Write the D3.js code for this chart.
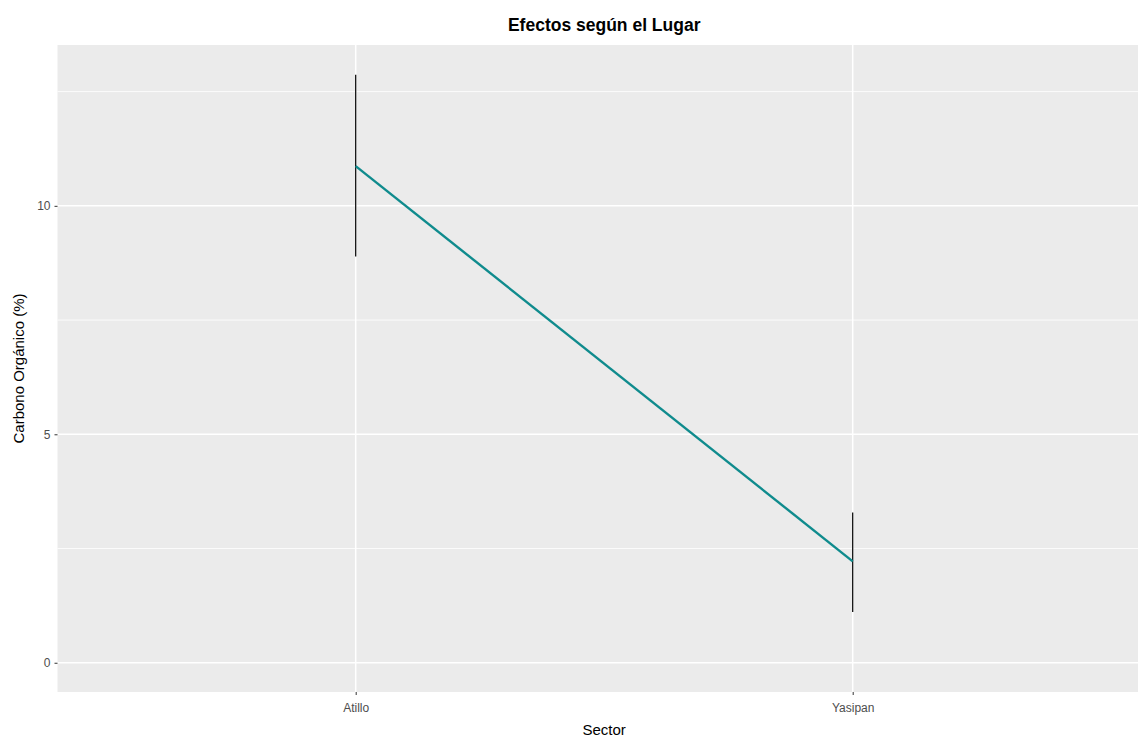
<!DOCTYPE html>
<html>
<head>
<meta charset="utf-8">
<script src="https://cdn.jsdelivr.net/npm/d3@7"></script>
<style>
  body { margin: 0; background: #fff; }
  svg { display: block; font-family: "Liberation Sans", Arial, sans-serif; }
</style>
</head>
<body>
<div id="chart"></div>
<script>
// data
var sectors = ["Atillo", "Yasipan"];
var means = [10.87, 2.22];
var lower = [8.89, 1.11];
var upper = [12.87, 3.29];
var yTicks = [0, 5, 10];
var yMinor = [2.5, 7.5, 12.5];

var width = 1138, height = 738;
var panelLeft = 57.5, panelTop = 45, panelBottom = 692;
var step = (852.7 - 355.7);
var panelRight = panelLeft + step * 2.2;

var svg = d3.select("#chart").append("svg")
  .attr("width", width)
  .attr("height", height);

var x = d3.scalePoint()
  .domain(sectors)
  .range([panelLeft, panelRight])
  .padding(0.6);

var y = d3.scaleLinear()
  .domain([-0.64, 13.52])
  .range([panelBottom, panelTop]);

// panel background
svg.append("rect")
  .attr("x", panelLeft)
  .attr("y", panelTop)
  .attr("width", panelRight - panelLeft)
  .attr("height", panelBottom - panelTop)
  .attr("fill", "#ebebeb");

var grid = svg.append("g");

grid.selectAll(".minor").data(yMinor).enter()
  .append("line")
  .attr("x1", panelLeft).attr("x2", panelRight)
  .attr("y1", d => y(d)).attr("y2", d => y(d))
  .attr("stroke", "#fff").attr("stroke-width", 0.8);

grid.selectAll(".major").data(yTicks).enter()
  .append("line")
  .attr("x1", panelLeft).attr("x2", panelRight)
  .attr("y1", d => y(d)).attr("y2", d => y(d))
  .attr("stroke", "#fff").attr("stroke-width", 1.5);

grid.selectAll(".vmajor").data(sectors).enter()
  .append("line")
  .attr("x1", d => x(d)).attr("x2", d => x(d))
  .attr("y1", panelTop).attr("y2", panelBottom)
  .attr("stroke", "#fff").attr("stroke-width", 1.5);

// axes
var yAxis = svg.append("g")
  .attr("transform", `translate(${panelLeft},0)`)
  .call(d3.axisLeft(y).tickValues(yTicks).tickSize(3).tickPadding(4));
var xAxis = svg.append("g")
  .attr("transform", `translate(0,${panelBottom})`)
  .call(d3.axisBottom(x).tickSize(3).tickPadding(8));

[yAxis, xAxis].forEach(function(ax) {
  ax.select(".domain").remove();
  ax.selectAll(".tick line").attr("stroke", "#333").attr("stroke-width", 1);
  ax.selectAll(".tick text")
    .attr("fill", "#4d4d4d")
    .style("font-size", "12px")
    .style("font-family", "Liberation Sans, Arial, sans-serif");
});

// error bars
svg.selectAll(".err").data(sectors).enter()
  .append("line")
  .attr("x1", d => x(d)).attr("x2", d => x(d))
  .attr("y1", (d, i) => y(lower[i]))
  .attr("y2", (d, i) => y(upper[i]))
  .attr("stroke", "#000")
  .attr("stroke-width", 1.2);

// mean line
var line = d3.line()
  .x((d, i) => x(sectors[i]))
  .y(d => y(d));

svg.append("path")
  .datum(means)
  .attr("d", line)
  .attr("fill", "none")
  .attr("stroke", "#0f8b8d")
  .attr("stroke-width", 2.4);

// titles
var midX = (panelLeft + panelRight) / 2;
svg.append("text")
  .attr("x", midX)
  .attr("y", 31)
  .attr("text-anchor", "middle")
  .style("font-size", "17.5px")
  .style("font-weight", "bold")
  .attr("fill", "#000")
  .text("Efectos según el Lugar");

svg.append("text")
  .attr("x", midX)
  .attr("y", 735)
  .attr("text-anchor", "middle")
  .style("font-size", "15px")
  .attr("fill", "#000")
  .text("Sector");

svg.append("text")
  .attr("transform", `translate(24,${(panelTop + panelBottom) / 2}) rotate(-90)`)
  .attr("text-anchor", "middle")
  .style("font-size", "15px")
  .attr("fill", "#000")
  .text("Carbono Orgánico (%)");
</script>
</body>
</html>
